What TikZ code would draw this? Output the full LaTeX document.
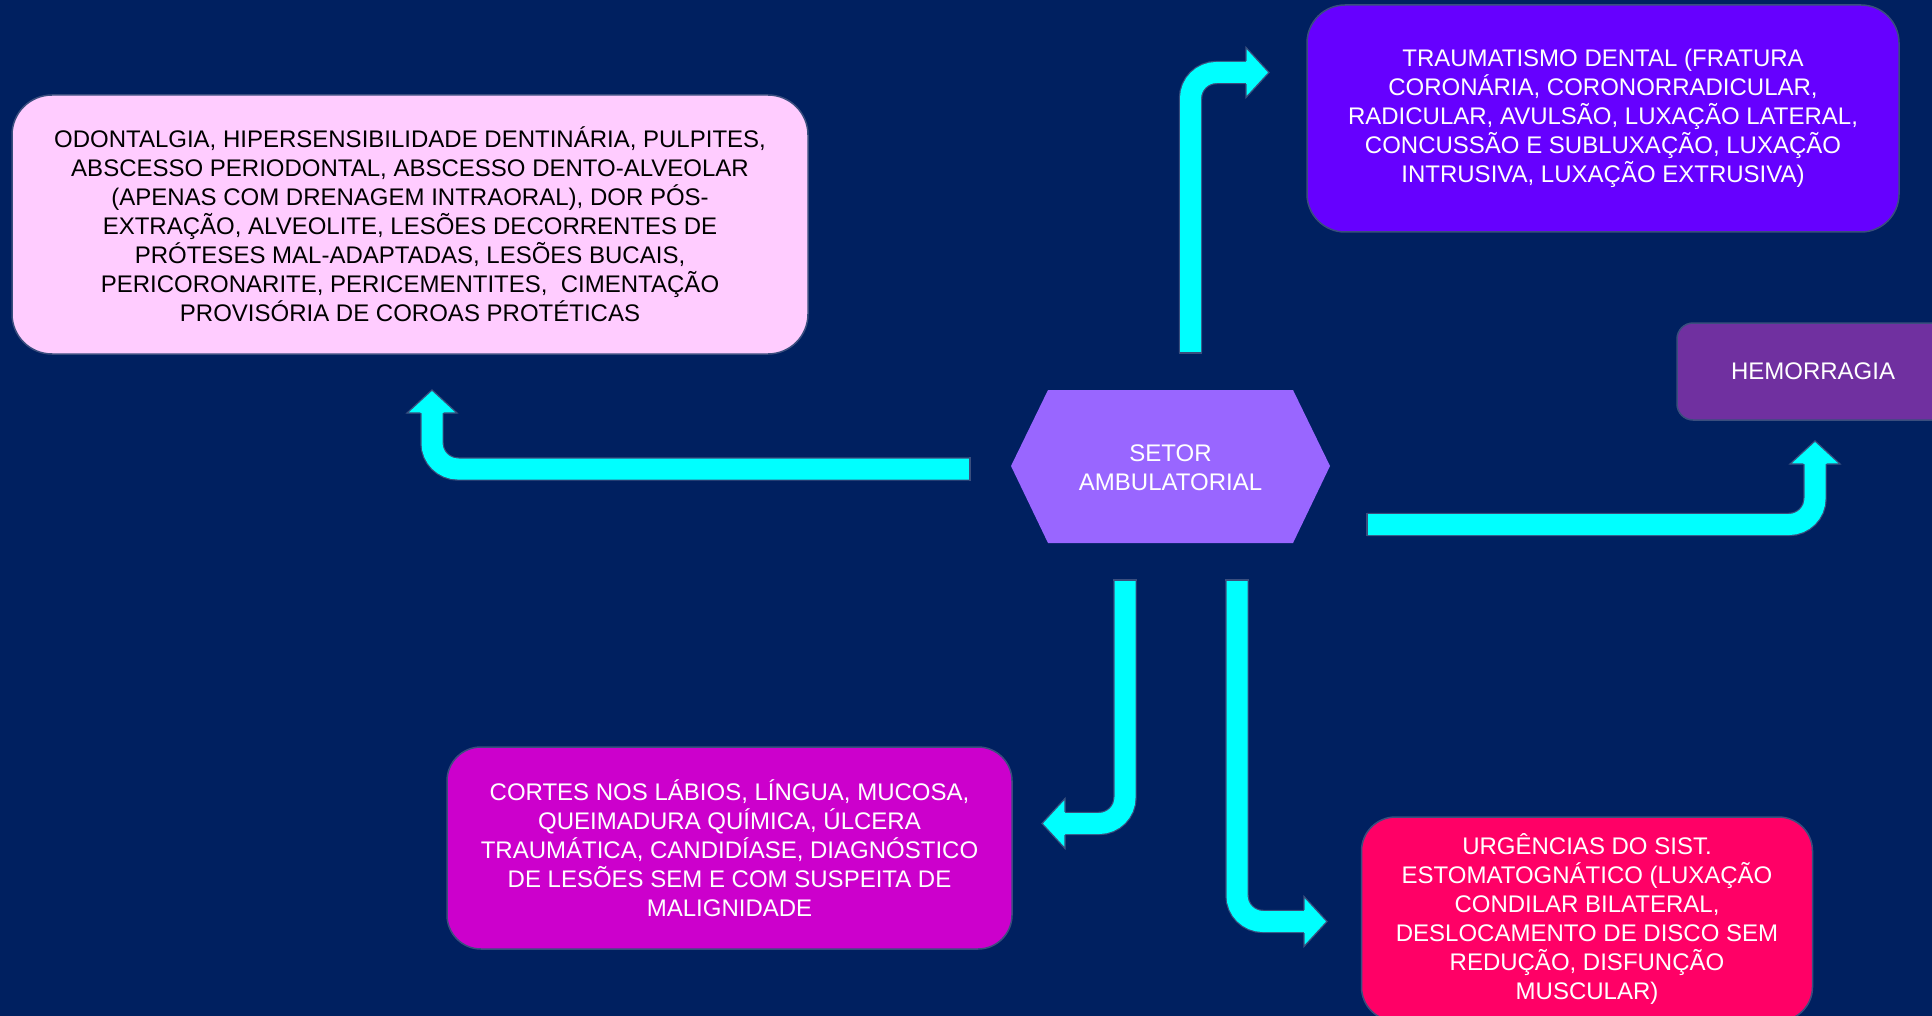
\documentclass[tikz,border=0pt]{standalone}
\usepackage{fontspec}
\setmainfont{Liberation Sans}
\usetikzlibrary{calc}
\definecolor{bg}{HTML}{002060}
\definecolor{pinkbox}{HTML}{FFCCFF}
\definecolor{violetbox}{HTML}{6600FF}
\definecolor{plumbox}{HTML}{7030A0}
\definecolor{hexfill}{HTML}{9966FF}
\definecolor{magbox}{HTML}{CC00CC}
\definecolor{redbox}{HTML}{FF0066}
\definecolor{arrowfill}{HTML}{00FFFF}
\definecolor{edgecol}{HTML}{3A4E7E}
\tikzset{
  box/.style={draw=edgecol, line width=0.75pt, align=center, inner sep=0pt,
    font=\fontsize{12}{14.5}\selectfont, text=white},
  shaft/.style={draw=edgecol, line width=0.6pt, double=arrowfill,
    double distance=10.5pt, rounded corners=13pt},
  headfill/.style={fill=arrowfill},
  headline/.style={draw=edgecol, line width=0.6pt, line join=miter},
}
\newcommand\arrowhd[2]{\begin{scope}[shift={(#1)},rotate=#2]
  \fill[headfill] (0,-25)--(23,0)--(0,25)--cycle;
  \draw[headline] (0,-11.6)--(0,-25)--(23,0)--(0,25)--(0,11.6);
\end{scope}}
\begin{document}
\begin{tikzpicture}[x=0.5pt,y=-0.5pt]
\useasboundingbox (0,0) rectangle (1932,1016);
\clip (0,0) rectangle (1932,1016);
\fill[bg] (0,0) rectangle (1932,1016);

% boxes
\node[box, fill=pinkbox, text=black, minimum width=398pt, minimum height=129.5pt, rounded corners=20pt]
  (n1) at (410,224.5) {ODONTALGIA, HIPERSENSIBILIDADE DENTINÁRIA, PULPITES,\\
  ABSCESSO PERIODONTAL, ABSCESSO DENTO-ALVEOLAR\\
  (APENAS COM DRENAGEM INTRAORAL), DOR PÓS-\\
  EXTRAÇÃO, ALVEOLITE, LESÕES DECORRENTES DE\\
  PRÓTESES MAL-ADAPTADAS, LESÕES BUCAIS,\\
  PERICORONARITE, PERICEMENTITES,\ \ CIMENTAÇÃO\\
  PROVISÓRIA DE COROAS PROTÉTICAS};

\node[box, fill=violetbox, minimum width=296pt, minimum height=113.5pt, rounded corners=19pt]
  (n2) at (1603,118.5) {TRAUMATISMO DENTAL (FRATURA\\
  CORONÁRIA, CORONORRADICULAR,\\
  RADICULAR, AVULSÃO, LUXAÇÃO LATERAL,\\
  CONCUSSÃO E SUBLUXAÇÃO, LUXAÇÃO\\
  INTRUSIVA, LUXAÇÃO EXTRUSIVA)};

\node[box, fill=plumbox, minimum width=136pt, minimum height=48.5pt, rounded corners=8pt]
  (n3) at (1813,371.5) {HEMORRAGIA};

\fill[hexfill] (1011,466) -- (1048,390) -- (1293,390) -- (1330,466) -- (1293,543) -- (1048,543) -- cycle;
\node[align=center, text=white, inner sep=0pt, font=\fontsize{12}{14.5}\selectfont]
  (hub) at (1170.5,467.5) {SETOR\\AMBULATORIAL};

\node[box, fill=magbox, minimum width=282.5pt, minimum height=101pt, rounded corners=17pt]
  (n4) at (729.5,848) {CORTES NOS LÁBIOS, LÍNGUA, MUCOSA,\\
  QUEIMADURA QUÍMICA, ÚLCERA\\
  TRAUMÁTICA, CANDIDÍASE, DIAGNÓSTICO\\
  DE LESÕES SEM E COM SUSPEITA DE\\
  MALIGNIDADE};

\node[box, fill=redbox, minimum width=225.5pt, minimum height=102pt, rounded corners=17pt]
  (n5) at (1587,919) {URGÊNCIAS DO SIST.\\
  ESTOMATOGNÁTICO (LUXAÇÃO\\
  CONDILAR BILATERAL,\\
  DESLOCAMENTO DE DISCO SEM\\
  REDUÇÃO, DISFUNÇÃO\\
  MUSCULAR)};

% arrow coordinates
\coordinate (a1s) at (1190.5,353);  \coordinate (a1c) at (1190.5,72.5); \coordinate (a1b) at (1246,72.5);
\coordinate (a2s) at (970,469);     \coordinate (a2c) at (432,469);     \coordinate (a2b) at (432,413);
\coordinate (a3s) at (1367,524.5);  \coordinate (a3c) at (1815,524.5);  \coordinate (a3b) at (1815,464);
\coordinate (a4s) at (1125,580);    \coordinate (a4c) at (1125,823.5);  \coordinate (a4b) at (1065,823.5);
\coordinate (a5s) at (1237,580);    \coordinate (a5c) at (1237,921.5);  \coordinate (a5b) at (1304,921.5);

% arrow to n2
\draw[shaft] (a1s) -- (a1c) -- ($(a1b)+(1,0)$);
\draw[headline] ($(a1s)+(-11.6,0)$) -- ($(a1s)+(11.6,0)$);
\arrowhd{a1b}{0}
% arrow to n1
\draw[shaft] (a2s) -- (a2c) -- ($(a2b)+(0,-1)$);
\draw[headline] ($(a2s)+(0,-11.6)$) -- ($(a2s)+(0,11.6)$);
\arrowhd{a2b}{90}
% arrow to n3
\draw[shaft] (a3s) -- (a3c) -- ($(a3b)+(0,-1)$);
\draw[headline] ($(a3s)+(0,-11.6)$) -- ($(a3s)+(0,11.6)$);
\arrowhd{a3b}{90}
% arrow to n4
\draw[shaft] (a4s) -- (a4c) -- ($(a4b)+(-1,0)$);
\draw[headline] ($(a4s)+(-11.6,0)$) -- ($(a4s)+(11.6,0)$);
\arrowhd{a4b}{180}
% arrow to n5
\draw[shaft] (a5s) -- (a5c) -- ($(a5b)+(1,0)$);
\draw[headline] ($(a5s)+(-11.6,0)$) -- ($(a5s)+(11.6,0)$);
\arrowhd{a5b}{0}
\end{tikzpicture}
\end{document}
